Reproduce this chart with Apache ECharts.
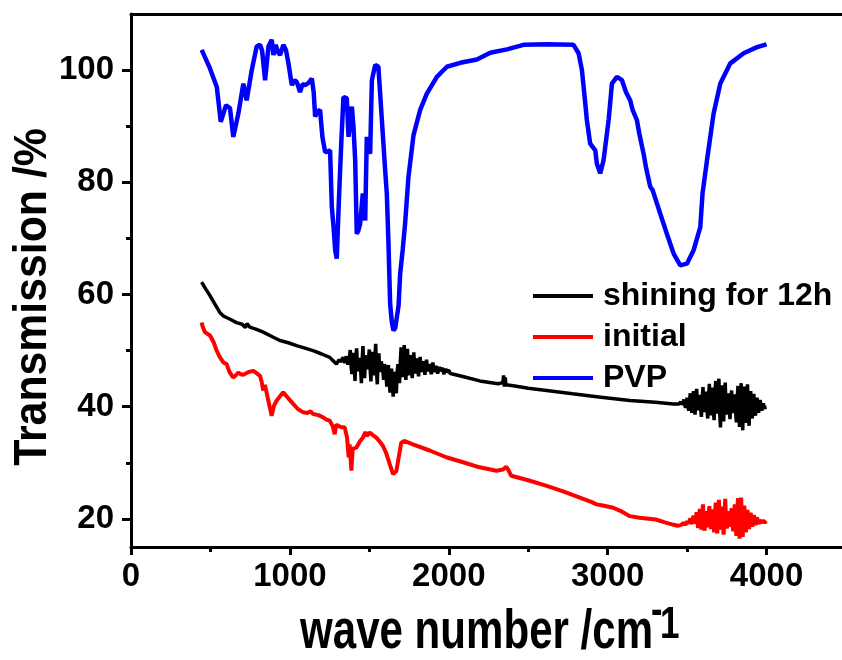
<!DOCTYPE html>
<html>
<head>
<meta charset="utf-8">
<script src="https://cdn.jsdelivr.net/npm/echarts@6/dist/echarts.min.js"></script>
<style>html,body{margin:0;padding:0;background:#fff}#c{width:842px;height:660px}</style>
</head>
<body>
<div id="c"></div>
<script>
// ---- data ----
const xTicks = [0, 1000, 2000, 3000, 4000];
const xMinorTicks = [500, 1500, 2500, 3500];
const yTicks = [20, 40, 60, 80, 100];
const yMinorTicks = [30, 50, 70, 90];
const seriesNames = ['shining for 12h', 'initial', 'PVP'];

const pvp = [[445,103.6],[497,100.3],[540,97],[565,90.8],[598,93.75],[623,93.2],[644,88.1],[676,92.3],[707,97.6],[728,94.6],[760,100],[791,104.2],[812,104.5],[825,103.5],[844,98.2],[865,104.2],[886,105.4],[896,102.7],[911,104.5],[925,103.2],[938,102.7],[959,104.5],[975,103.6],[991,101.2],[1012,97.3],[1030,98.2],[1043,97.9],[1064,96.1],[1080,97.5],[1096,97.3],[1120,97.8],[1138,98.5],[1150,96.0],[1159,91.7],[1170,92.5],[1190,92.9],[1205,88],[1222,85.4],[1240,85.5],[1253,85.7],[1264,75.6],[1275,72],[1285,67.9],[1295,66.4],[1306,75],[1316,82.1],[1325,88],[1337,95.2],[1348,95.3],[1358,95],[1369,88.1],[1380,91],[1390,93.5],[1400,90],[1411,83.9],[1421,70.8],[1432,71.5],[1442,72.6],[1459,78],[1474,73.2],[1484,88.1],[1495,86],[1505,85.1],[1516,98.2],[1537,100.9],[1557,100.6],[1579,91.1],[1600,82],[1610,78],[1620,69.6],[1631,58.3],[1642,55],[1652,53.6],[1663,54],[1673,54.2],[1684,58],[1694,63.7],[1710,68],[1725,72.6],[1746,80.9],[1778,88.4],[1820,92.9],[1862,95.8],[1925,98.8],[1988,100.6],[2072,101.3],[2177,101.9],[2261,103.1],[2366,103.7],[2470,104.5],[2618,104.6],[2785,104.5],[2817,103],[2838,100],[2859,94.1],[2869,91.1],[2890,86.9],[2922,85.7],[2932,83.3],[2953,81.6],[2974,83.9],[3006,91.1],[3027,97.6],[3058,98.8],[3090,98.2],[3115,96.1],[3142,94.6],[3157,92.9],[3184,91.1],[3199,88.7],[3226,85.1],[3241,82.7],[3268,79.2],[3283,78.6],[3331,74.4],[3373,70.8],[3415,67.3],[3457,65.2],[3499,65.5],[3541,67.9],[3583,72],[3597,78],[3625,83.9],[3667,92.3],[3709,97.6],[3772,101.2],[3856,103],[3940,104.1],[4000,104.6]];

const shiningA = [[444,62.2],[470,61],[497,59.8],[530,58.2],[559,56.8],[580,56.2],[601,55.9],[630,55.5],[664,55],[700,54.7],[720,54.1],[730,54.8],[748,54.2],[790,53.8],[832,53.3],[880,52.6],[937,51.8],[990,51.4],[1042,50.9],[1100,50.4],[1146,50],[1200,49.4],[1251,48.8],[1272,48.2],[1293,47.6],[1310,48.4],[1320,48.0],[1335,48.8]];
const shiningNoiseA = [[1340,48.6],[1345,47.8],[1350,47.9],[1355,49.0],[1360,49.3],[1365,47.5],[1370,47.2],[1375,48.9],[1380,50.1],[1385,47.3],[1390,45.8],[1395,48.6],[1400,49.6],[1405,46.9],[1410,44.6],[1415,48.8],[1420,50.4],[1425,47.6],[1430,46.3],[1435,48.7],[1440,48.9],[1445,46.8],[1450,44.2],[1455,48.5],[1460,50.8],[1465,47.0],[1470,45.1],[1475,48.4],[1480,49.2],[1485,47.2],[1490,46.7],[1495,48.6],[1500,50.2],[1505,46.8],[1510,44.5],[1515,48.3],[1520,49.8],[1525,46.9],[1530,45.6],[1535,48.7],[1540,51.2],[1545,46.6],[1550,44.0],[1555,48.2],[1560,49.5],[1565,46.8],[1570,46.2],[1575,48.1],[1580,48.3],[1585,46.5],[1590,44.8],[1595,47.6],[1600,47.9],[1605,45.8],[1610,43.6],[1615,46.9],[1620,47.4],[1625,45.1],[1630,42.5],[1635,46.0],[1640,46.8],[1645,44.4],[1650,41.8],[1655,45.6],[1660,46.2],[1665,44.3],[1670,42.4],[1675,46.2],[1680,47.6],[1685,45.7],[1690,44.2],[1695,48.1],[1700,50.6],[1705,47.2],[1710,45.3],[1715,48.4],[1720,51.0],[1725,47.4],[1730,44.8],[1735,48.2],[1740,50.3],[1745,47.3],[1750,45.6],[1755,47.9],[1760,49.2],[1765,46.8],[1770,45.1],[1775,47.6],[1780,49.7],[1785,47.0],[1790,45.9],[1795,47.5],[1800,48.6],[1805,46.9],[1810,45.4],[1815,47.3],[1820,48.9],[1825,46.8],[1830,46.2],[1835,47.4],[1840,48.1],[1845,46.7],[1850,45.7],[1855,47.2],[1860,48.4],[1865,46.9],[1870,46.3],[1875,47.1],[1880,47.6],[1885,46.6],[1890,45.8],[1895,46.9],[1900,47.9],[1905,46.7],[1910,46.2],[1915,46.9],[1920,47.3],[1925,46.5],[1930,45.9],[1935,46.6],[1940,47.1],[1945,46.4],[1950,46.3],[1955,46.6],[1960,46.9],[1965,46.3],[1970,45.8],[1975,46.4],[1980,46.8],[1985,46.2],[1990,46.1],[1995,46.3],[2000,46.5],[2010,45.9],[2020,46.2],[2030,45.8]];
const shiningB = [[2100,45.3],[2195,44.6],[2310,44.1],[2340,44.3],[2345,45.6],[2350,43.6],[2355,45.2],[2360,43.9],[2406,43.75],[2500,43.3],[2616,42.9],[2780,42.3],[2930,41.8],[3140,41.1],[3300,40.8],[3413,40.5]];
const shiningNoiseB = [[3450,40.5],[3455,40.2],[3460,40.9],[3465,40.4],[3470,40.1],[3475,40.8],[3480,41.3],[3485,40.3],[3490,39.8],[3495,40.9],[3500,41.6],[3505,40.1],[3510,39.3],[3515,41.0],[3520,42.4],[3525,40.2],[3530,38.9],[3535,41.1],[3540,42.8],[3545,39.8],[3550,38.6],[3555,41.3],[3560,43.2],[3565,40.0],[3570,39.4],[3575,41.2],[3580,42.1],[3585,39.7],[3590,38.2],[3595,41.4],[3600,43.5],[3605,39.6],[3610,39.1],[3615,41.6],[3620,42.7],[3625,39.5],[3630,37.9],[3635,41.8],[3640,44.1],[3645,39.4],[3650,38.5],[3655,42.0],[3660,43.4],[3665,39.2],[3670,37.6],[3675,42.3],[3680,44.6],[3685,39.6],[3690,38.8],[3695,42.1],[3700,45.0],[3705,39.0],[3710,36.3],[3715,41.5],[3720,43.8],[3725,39.3],[3730,37.4],[3735,41.9],[3740,44.3],[3745,39.5],[3750,38.6],[3755,41.2],[3760,42.4],[3765,39.7],[3770,37.8],[3775,41.0],[3780,42.9],[3785,39.6],[3790,38.9],[3795,40.9],[3800,42.2],[3805,39.4],[3810,37.2],[3815,41.3],[3820,43.7],[3825,39.2],[3830,36.4],[3835,41.6],[3840,44.2],[3845,39.0],[3850,35.8],[3855,41.4],[3860,43.6],[3865,39.3],[3870,37.1],[3875,41.2],[3880,44.0],[3885,39.4],[3890,36.6],[3895,41.0],[3900,42.8],[3905,39.6],[3910,37.9],[3915,40.8],[3920,42.3],[3925,39.7],[3930,38.4],[3935,40.6],[3940,41.6],[3945,39.8],[3950,38.9],[3955,40.4],[3960,41.2],[3965,39.9],[3970,39.3],[3975,40.2],[3980,40.6],[3985,39.8],[3990,39.6],[4000,39.9]];

const initialA = [[444,55],[452,54.2],[465,53.3],[497,52.7],[520,51.5],[539,50],[560,48.8],[581,47.9],[602,47.6],[620,46.2],[643,45.2],[660,45.6],[675,46.1],[690,45.8],[707,45.7],[740,46.2],[770,46.4],[790,46.0],[812,45.5],[822,44.5],[832,42.9],[843,43.9],[854,43.6],[865,41],[885,38.4],[900,40.2],[917,41.1],[958,42.6],[990,41.5],[1021,40.5],[1050,39.6],[1084,39],[1110,38.9],[1130,39.2],[1146,38.7],[1180,38.5],[1209,38.1],[1230,37.7],[1251,37.5],[1270,36.5],[1282,35.1],[1292,36.8],[1303,36.6],[1320,36.4],[1345,36.3],[1360,34.5],[1370,31],[1376,33.3],[1387,28.6],[1395,32.5],[1418,32.7],[1440,33.8],[1460,34.5],[1475,35.5],[1485,34.8],[1502,35.4],[1520,35.0],[1544,34.5],[1565,33.8],[1586,33],[1605,31.8],[1628,29.8],[1649,28],[1660,27.9],[1670,28.5],[1685,31],[1701,33.6],[1720,33.9],[1774,33.3],[1880,32.2],[1984,31],[2090,30.1],[2194,29.2],[2300,28.6],[2340,28.8],[2362,29.3],[2375,28.7],[2393,27.7],[2500,26.9],[2616,25.9],[2720,24.9],[2825,23.8],[2900,23.0],[2930,22.6],[2970,22.4],[3035,22],[3090,21.3],[3140,20.5],[3200,20.2],[3304,19.9],[3360,19.4],[3409,19],[3440,18.8]];
const initialNoise = [[3450,18.8],[3460,18.9],[3470,19.0],[3480,19.3],[3490,18.9],[3500,19.6],[3505,19.2],[3510,19.0],[3515,19.7],[3520,20.1],[3525,19.1],[3530,18.8],[3535,19.9],[3540,20.6],[3545,19.2],[3550,18.9],[3555,20.1],[3560,21.2],[3565,19.3],[3570,18.4],[3575,20.3],[3580,21.8],[3585,19.2],[3590,18.1],[3595,20.5],[3600,22.6],[3605,19.4],[3610,17.9],[3615,20.2],[3620,21.4],[3625,19.6],[3630,18.5],[3635,20.4],[3640,22.3],[3645,19.3],[3650,18.2],[3655,20.3],[3660,21.7],[3665,19.2],[3670,17.6],[3675,20.6],[3680,22.9],[3685,19.5],[3690,17.4],[3695,20.8],[3700,23.4],[3705,19.6],[3710,18.1],[3715,20.5],[3720,22.2],[3725,19.3],[3730,17.2],[3735,20.7],[3740,23.6],[3745,19.5],[3750,18.3],[3755,20.3],[3760,21.4],[3765,19.6],[3770,18.6],[3775,20.4],[3780,21.9],[3785,19.4],[3790,17.8],[3795,20.6],[3800,22.6],[3805,19.3],[3810,17.0],[3815,20.7],[3820,23.7],[3825,19.2],[3830,16.5],[3835,20.9],[3840,23.8],[3845,19.3],[3850,16.8],[3855,20.6],[3860,22.4],[3865,19.4],[3870,17.6],[3875,20.3],[3880,21.6],[3885,19.5],[3890,18.2],[3895,20.1],[3900,21.1],[3905,19.6],[3910,18.6],[3915,20.0],[3920,20.7],[3925,19.5],[3930,18.9],[3935,19.9],[3940,20.3],[3945,19.5],[3950,19.1],[3955,19.8],[3960,20.0],[3965,19.5],[3970,19.3],[3975,19.7],[3980,19.8],[3990,19.4],[4000,19.6]];

// ---- chart ----
const FONT = '"Liberation Sans", Arial, Helvetica, sans-serif';
const chart = echarts.init(document.getElementById('c'), null, {renderer: 'canvas'});
const axisBase = {
  type: 'value',
  axisLine: {show: true, onZero: false, lineStyle: {color: '#000', width: 3}},
  splitLine: {show: false}
};
const plainNum = v => String(v);
chart.setOption({
  animation: false,
  backgroundColor: '#fff',
  grid: {left: 131, top: 14, width: 715, height: 533, containLabel: false, outerBoundsMode: 'none'},
  legend: {
    orient: 'vertical', left: 533, top: 280, itemGap: 9, padding: 0,
    icon: 'rect', itemWidth: 60, itemHeight: 4,
    data: seriesNames,
    textStyle: {fontSize: 32, fontWeight: 'bold', fontFamily: FONT, color: '#000', lineHeight: 32, padding: [0, 0, 0, 5]}
  },
  xAxis: [
    Object.assign({}, axisBase, {
      position: 'bottom', min: 0, max: 4500,
      axisTick: {show: true, length: 8, lineStyle: {width: 3, color: '#000'}, customValues: xTicks},
      axisLabel: {show: true, customValues: xTicks, formatter: plainNum, margin: 13, fontSize: 33, fontWeight: 'bold', fontFamily: FONT, color: '#000'}
    }),
    Object.assign({}, axisBase, {
      position: 'bottom', min: 0, max: 4500,
      axisLine: {show: false},
      axisTick: {show: true, length: 5, lineStyle: {width: 3, color: '#000'}, customValues: xMinorTicks},
      axisLabel: {show: false}
    }),
    Object.assign({}, axisBase, {
      position: 'top', min: 0, max: 4500,
      axisTick: {show: false}, axisLabel: {show: false}
    })
  ],
  yAxis: [
    Object.assign({}, axisBase, {
      position: 'left', min: 15, max: 110,
      axisTick: {show: true, length: 9, lineStyle: {width: 3, color: '#000'}, customValues: yTicks},
      axisLabel: {show: true, customValues: yTicks, formatter: plainNum, margin: 17, fontSize: 33, fontWeight: 'bold', fontFamily: FONT, color: '#000'}
    }),
    Object.assign({}, axisBase, {
      position: 'left', min: 15, max: 110,
      axisLine: {show: false},
      axisTick: {show: true, length: 5, lineStyle: {width: 3, color: '#000'}, customValues: yMinorTicks},
      axisLabel: {show: false}
    })
  ],
  series: [
    {name: seriesNames[0], type: 'line', showSymbol: false, symbol: 'none', color: '#000000',
     lineStyle: {width: 3.5}, data: shiningA.concat(shiningNoiseA, shiningB, shiningNoiseB), z: 3},
    {name: seriesNames[1], type: 'line', showSymbol: false, symbol: 'none', color: '#ff0000',
     lineStyle: {width: 4}, data: initialA.concat(initialNoise), z: 2},
    {name: seriesNames[2], type: 'line', showSymbol: false, symbol: 'none', color: '#0000ff',
     lineStyle: {width: 4.5}, data: pvp, z: 4}
  ],
  graphic: [
    {type: 'text', x: 300, y: 633, scaleX: 0.765, style: {text: 'wave number /cm', fontSize: 55, fontWeight: 'bold', fontFamily: FONT, fill: '#000', textAlign: 'left', textVerticalAlign: 'middle'}},
    {type: 'text', x: 651, y: 612, scaleX: 0.78, style: {text: '-', fontSize: 44, fontWeight: 'bold', fontFamily: FONT, fill: '#000', textAlign: 'left', textVerticalAlign: 'middle'}},
    {type: 'text', x: 660, y: 626, scaleX: 0.78, style: {text: '1', fontSize: 45, fontWeight: 'bold', fontFamily: FONT, fill: '#000', textAlign: 'left', textVerticalAlign: 'middle'}},
    {type: 'text', x: 33, y: 297, rotation: Math.PI / 2, scaleX: 0.93, style: {text: 'Transmission /%', fontSize: 46, fontWeight: 'bold', fontFamily: FONT, fill: '#000', textAlign: 'center', textVerticalAlign: 'middle'}}
  ]
});
</script>
</body>
</html>
